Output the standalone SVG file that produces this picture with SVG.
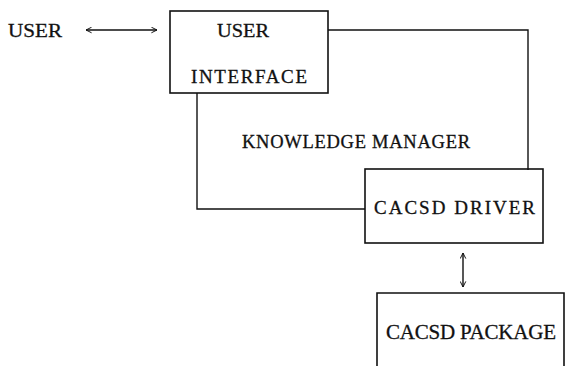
<svg xmlns="http://www.w3.org/2000/svg" width="565" height="366" viewBox="0 0 565 366">
  <style>
    .box { fill: none; stroke: #111; stroke-width: 1.6; }
    .line { fill: none; stroke: #111; stroke-width: 1.4; }
    .lbl { font-family: "Liberation Serif", "DejaVu Serif", serif; font-size: 19px; fill: #111; stroke: #111; stroke-width: 0.3; }
    .big { font-size: 21px; }
    .wide { font-size: 18.5px; }
  </style>
  <defs>
    <marker id="head" viewBox="0 0 10 10" refX="9" refY="5" markerWidth="7" markerHeight="7" orient="auto-start-reverse" markerUnits="userSpaceOnUse">
      <path d="M1,1 L9,5 L1,9" fill="none" stroke="#111" stroke-width="1.4"/>
    </marker>
  </defs>
  <rect width="565" height="366" fill="#fff"/>

  <text class="lbl" x="8" y="37" textLength="54" lengthAdjust="spacingAndGlyphs">USER</text>

  <g id="connectors">
    <line class="line" x1="86" y1="30" x2="157" y2="30" marker-start="url(#head)" marker-end="url(#head)"/>
    <line class="line" x1="463" y1="253" x2="463" y2="287" marker-start="url(#head)" marker-end="url(#head)"/>
  </g>

  <g id="knowledge-manager">
    <polyline class="line" points="328,30 528,30 528,170"/>
    <polyline class="line" points="197,93 197,209 365,209"/>
    <text class="lbl wide" x="242" y="148" textLength="228" lengthAdjust="spacing">KNOWLEDGE MANAGER</text>
  </g>

  <g id="user-interface">
    <rect class="box" x="170" y="11" width="158" height="82"/>
    <text class="lbl" x="217" y="37" textLength="52" lengthAdjust="spacingAndGlyphs">USER</text>
    <text class="lbl" x="191" y="83" textLength="116" lengthAdjust="spacing">INTERFACE</text>
  </g>

  <g id="cacsd-driver">
    <rect class="box" x="365" y="169" width="178" height="74"/>
    <text class="lbl" x="374" y="214" textLength="161" lengthAdjust="spacing">CACSD DRIVER</text>
  </g>

  <g id="cacsd-package">
    <polyline class="box" points="377,366 377,293 564,293 564,366"/>
    <text class="lbl big" x="386" y="339" textLength="170" lengthAdjust="spacing">CACSD PACKAGE</text>
  </g>
</svg>
